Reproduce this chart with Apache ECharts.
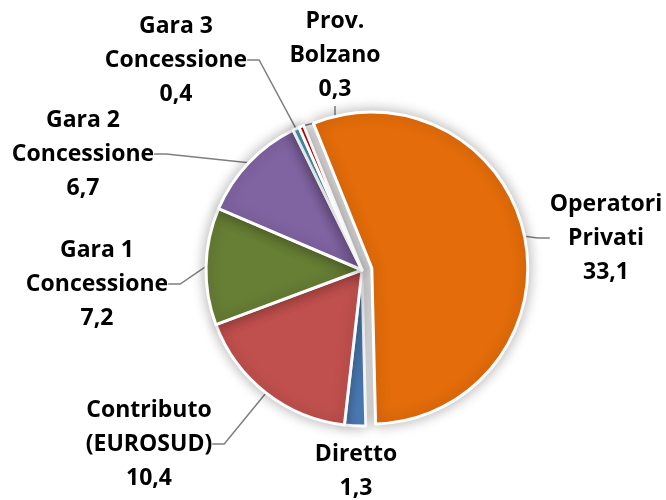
<!DOCTYPE html>
<html>
<head>
<meta charset="utf-8">
<script src="https://cdn.jsdelivr.net/npm/echarts@6/dist/echarts.min.js"></script>
<style>
  html, body { margin: 0; padding: 0; background: #fff; }
  #main { width: 666px; height: 500px; }
</style>
</head>
<body>
<div id="main"></div>
<script>
// slices, clockwise from the orange one
var categories = ['Operatori\nPrivati', 'Diretto', 'Contributo\n(EUROSUD)', 'Gara 1\nConcessione', 'Gara 2\nConcessione', 'Gara 3\nConcessione', 'Prov.\nBolzano'];
var values = [33.1, 1.3, 10.4, 7.2, 6.7, 0.4, 0.3];
var colors = ['#E46C0A', '#4F81BD', '#C0504D', '#677E35', '#8064A2', '#4BACC6', '#C00000'];
var exploded = 0; // the slice pulled out of the pie

// where each label block sits (centre of text block)
var labelPos = [[606, 238], [356, 471], [149, 444], [97, 284], [83, 154], [176, 60], [335, 55]];

var center = [362, 270];
var startAngle = 112;
var explodeDist = 10;

var total = values.reduce(function (a, b) { return a + b; }, 0);
var before = values.slice(0, exploded).reduce(function (a, b) { return a + b; }, 0);
var midAngle = (startAngle - (before + values[exploded] / 2) / total * 360) * Math.PI / 180;
var center2 = [center[0] + Math.cos(midAngle) * explodeDist, center[1] - Math.sin(midAngle) * explodeDist];

var myChart = echarts.init(document.getElementById('main'));

function buildData(onlyExploded) {
    return values.map(function (v, i) {
        var visible = onlyExploded ? i === exploded : i !== exploded;
        var item = {
            name: categories[i],
            value: v,
            itemStyle: { color: colors[i] },
            labelLine: { show: visible && i !== 1 },
            label: { show: visible }
        };
        if (!visible) {
            item.itemStyle = { color: 'rgba(0,0,0,0)', borderWidth: 0, shadowBlur: 0, shadowColor: 'rgba(0,0,0,0)' };
        }
        return item;
    });
}

function pieSeries(c, d, z) {
    return {
        type: 'pie',
        z: z,
        center: c,
        radius: 156,
        startAngle: startAngle,
        clockwise: true,
        avoidLabelOverlap: false,
        silent: true,
        itemStyle: {
            borderColor: '#fff',
            borderWidth: 3,
            shadowBlur: 14,
            shadowColor: 'rgba(0,0,0,0.3)'
        },
        label: {
            position: 'outside',
            color: '#000',
            fontFamily: 'Open Sans',
            fontWeight: 'bold',
            fontSize: 23,
            lineHeight: 34,
            align: 'center',
            formatter: function (p) {
                return p.name + '\n' + p.value.toFixed(1).replace('.', ',');
            }
        },
        labelLine: {
            length: 10,
            length2: 12,
            lineStyle: { color: '#7f7f7f', width: 1.5 }
        },
        labelLayout: function (p) {
            var pos = labelPos[p.dataIndex];
            return { x: pos[0], y: pos[1], align: 'center', verticalAlign: 'middle' };
        },
        emphasis: { disabled: true },
        data: d
    };
}

var option = {
    animation: false,
    series: [
        pieSeries(center, buildData(false), 2),
        pieSeries(center2, buildData(true), 3)
    ]
};

myChart.setOption(option);
</script>
</body>
</html>
